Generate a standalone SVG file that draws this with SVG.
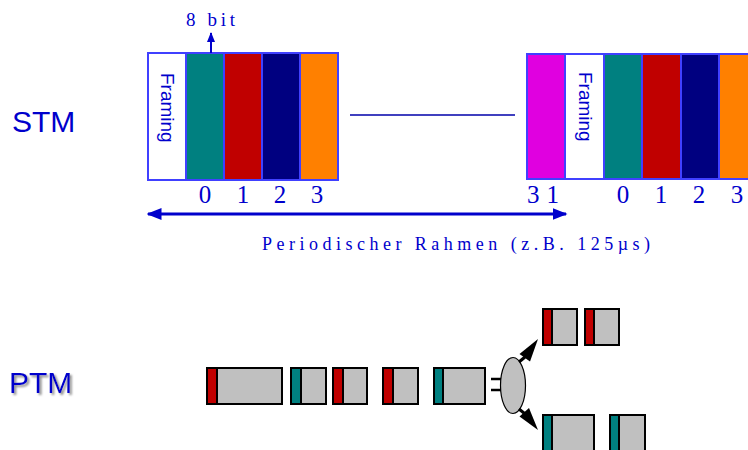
<svg xmlns="http://www.w3.org/2000/svg" width="748" height="450" viewBox="0 0 748 450">
<defs>
<style>
.lbl{font-family:"Liberation Sans",Arial,sans-serif;fill:#0000cc}
.ser{font-family:"Liberation Serif","Times New Roman",serif;fill:#0000cc}
.num{font-family:"Liberation Serif","Times New Roman",serif;fill:#0000cc;font-size:25px;text-anchor:middle}
.cell{stroke:#4040ff;stroke-width:2}
.fr{font-family:"Liberation Sans",Arial,sans-serif;fill:#0000cc;font-size:19px}
.pk{fill:#c0c0c0;stroke:#000;stroke-width:2}
.r{fill:#c00000;stroke:#000;stroke-width:2}
.t{fill:#008080;stroke:#000;stroke-width:2}
.blk{stroke:#000;stroke-width:3;fill:none}
</style>
<marker id="bh" viewBox="0 0 10 10" refX="9" refY="5" markerWidth="5" markerHeight="5" orient="auto-start-reverse" markerUnits="strokeWidth">
<path d="M0,1 L10,5 L0,9 z" fill="#0000cc"/>
</marker>
<filter id="sh" x="-10%" y="-10%" width="130%" height="140%">
<feDropShadow dx="2" dy="2" stdDeviation="0.8" flood-color="#909090"/>
</filter>
</defs>
<rect width="748" height="450" fill="#fff"/>

<g id="labels">
<text class="lbl" x="12" y="132" font-size="30">STM</text>
<text class="lbl" x="9" y="393" font-size="30" filter="url(#sh)">PTM</text>
</g>

<g id="frame-left">
<rect class="cell" x="148" y="53" width="38" height="127" fill="#fff"/>
<rect class="cell" x="186" y="53" width="38" height="127" fill="#008080"/>
<rect class="cell" x="224" y="53" width="38" height="127" fill="#c00000"/>
<rect class="cell" x="262" y="53" width="38" height="127" fill="#000080"/>
<rect class="cell" x="300" y="53" width="38" height="127" fill="#ff8000"/>
<text class="fr" transform="translate(161,73) rotate(90)">Framing</text>
<text class="num" x="205" y="203">0</text>
<text class="num" x="243" y="203">1</text>
<text class="num" x="280" y="203">2</text>
<text class="num" x="317" y="203">3</text>
</g>

<g id="bit-label">
<text class="ser" font-size="19" x="186" y="26" textLength="49" lengthAdjust="spacing">8 bit</text>
</g>

<g id="frame-right">
<rect class="cell" x="527" y="54" width="38" height="125" fill="#e000e0"/>
<rect class="cell" x="565" y="54" width="39" height="125" fill="#fff"/>
<rect class="cell" x="604" y="54" width="38" height="125" fill="#008080"/>
<rect class="cell" x="642" y="54" width="39" height="125" fill="#c00000"/>
<rect class="cell" x="681" y="54" width="38" height="125" fill="#000080"/>
<rect class="cell" x="719" y="54" width="38" height="125" fill="#ff8000"/>
<text class="fr" transform="translate(579,72) rotate(90)">Framing</text>
<text class="ser" font-size="25" x="527" y="203" textLength="32" lengthAdjust="spacing">31</text>
<text class="num" x="623" y="203">0</text>
<text class="num" x="661" y="203">1</text>
<text class="num" x="699" y="203">2</text>
<text class="num" x="737" y="203">3</text>
</g>

<g id="period-label">
<text class="ser" font-size="18" x="262" y="250" textLength="388" lengthAdjust="spacing">Periodischer Rahmen (z.B. 125µs)</text>
</g>

<g id="ptm-stream">
<rect class="pk" x="207" y="368" width="75" height="36"/><rect class="r" x="207" y="368" width="10" height="36"/>
<rect class="pk" x="291" y="368" width="35" height="36"/><rect class="t" x="291" y="368" width="10" height="36"/>
<rect class="pk" x="333" y="368" width="34" height="36"/><rect class="r" x="333" y="368" width="10" height="36"/>
<rect class="pk" x="383" y="368" width="35" height="36"/><rect class="r" x="383" y="368" width="10" height="36"/>
<rect class="pk" x="434" y="368" width="51" height="36"/><rect class="t" x="434" y="368" width="9" height="36"/>
</g>

<g id="switch">
<ellipse cx="513" cy="385.5" rx="12.5" ry="28" fill="#c0c0c0" stroke="#000" stroke-width="1.2"/>
</g>

<g id="ptm-out-top">
<rect class="pk" x="543" y="309" width="34" height="36"/><rect class="r" x="543" y="309" width="9" height="36"/>
<rect class="pk" x="585" y="309" width="34" height="36"/><rect class="r" x="585" y="309" width="9" height="36"/>
</g>

<g id="ptm-out-bottom">
<rect class="pk" x="543" y="415" width="51" height="38"/><rect class="t" x="543" y="415" width="9" height="38"/>
<rect class="pk" x="610" y="415" width="35" height="38"/><rect class="t" x="610" y="415" width="9" height="38"/>
</g>

<g id="connectors">
<line x1="211" y1="53" x2="211" y2="33" stroke="#0000cc" stroke-width="2" marker-end="url(#bh)"/>
<line x1="350" y1="115" x2="515" y2="115" stroke="#0000aa" stroke-width="1.5"/>
<line x1="148" y1="214" x2="566" y2="214" stroke="#0000cc" stroke-width="3" marker-start="url(#bh)" marker-end="url(#bh)"/>
<line x1="491" y1="379" x2="501" y2="379" stroke="#000" stroke-width="2.5"/>
<line x1="491" y1="390" x2="501" y2="390" stroke="#000" stroke-width="2.5"/>
<line class="blk" x1="519" y1="362" x2="525" y2="357"/>
<polygon points="538,339 530,361.5 519.5,354" fill="#000"/>
<line class="blk" x1="519" y1="409" x2="524.5" y2="413.5"/>
<polygon points="538,430 519.5,416.5 529,408" fill="#000"/>
</g>
</svg>
